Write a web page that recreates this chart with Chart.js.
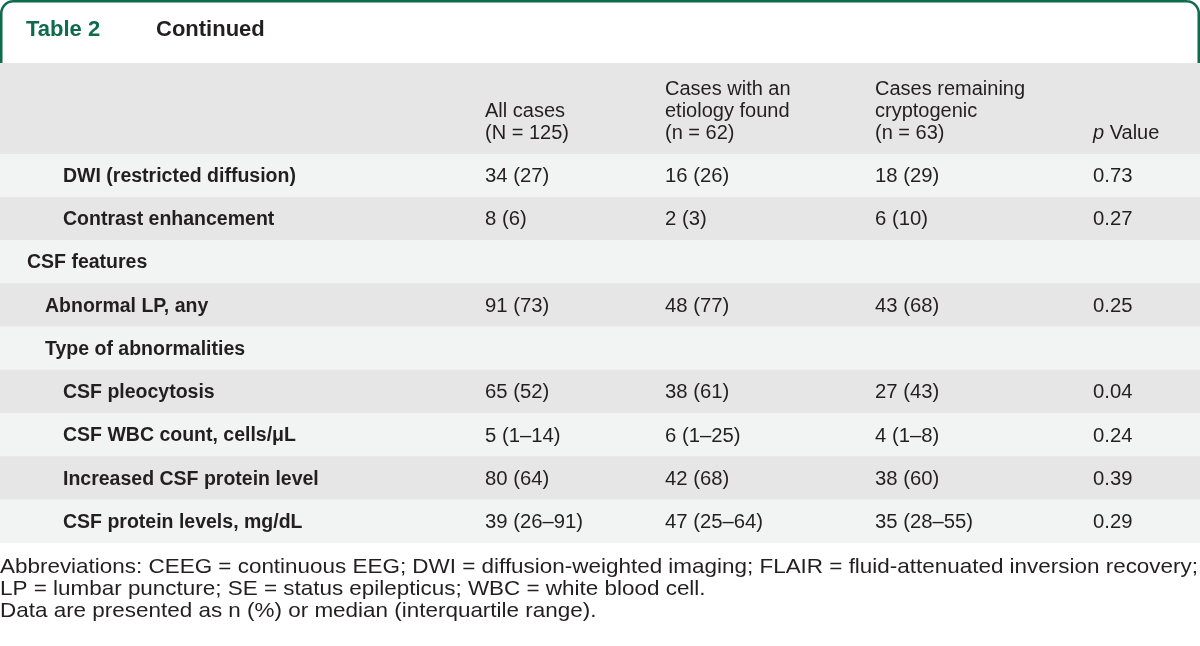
<!DOCTYPE html>
<html>
<head>
<meta charset="utf-8">
<script src="https://cdn.jsdelivr.net/npm/chart.js@4/dist/chart.umd.min.js"></script>
<style>
  html, body { margin: 0; padding: 0; background: #fff; }
  #wrap { width: 1200px; height: 646px; position: relative; }
</style>
</head>
<body>
<div id="wrap"><canvas id="tableChart"></canvas></div>
<script>
// table content
var rowLabels = [
  'DWI (restricted diffusion)',
  'Contrast enhancement',
  'CSF features',
  'Abnormal LP, any',
  'Type of abnormalities',
  'CSF pleocytosis',
  'CSF WBC count, cells/\u03bcL',
  'Increased CSF protein level',
  'CSF protein levels, mg/dL'
]
var rowLevels = [3, 3, 1, 2, 2, 3, 3, 3, 3]
var allCases = ['34 (27)', '8 (6)', '', '91 (73)', '', '65 (52)', '5 (1\u201314)', '80 (64)', '39 (26\u201391)']
var etiologyFound = ['16 (26)', '2 (3)', '', '48 (77)', '', '38 (61)', '6 (1\u201325)', '42 (68)', '47 (25\u201364)']
var cryptogenic = ['18 (29)', '6 (10)', '', '43 (68)', '', '27 (43)', '4 (1\u20138)', '38 (60)', '35 (28\u201355)']
var pValues = ['0.73', '0.27', '', '0.25', '', '0.04', '0.24', '0.39', '0.29']

var headAll = ['All cases', '(N = 125)']
var headEtiology = ['Cases with an', 'etiology found', '(n = 62)']
var headCrypto = ['Cases remaining', 'cryptogenic', '(n = 63)']

var footnotes = [
  'Abbreviations: CEEG = continuous EEG; DWI = diffusion-weighted imaging; FLAIR = fluid-attenuated inversion recovery;',
  'LP = lumbar puncture; SE = status epilepticus; WBC = white blood cell.',
  'Data are presented as n (%) or median (interquartile range).'
]

// layout
var GREEN = '#0e6b4b'
var INK = '#231f20'
var colX = [485, 665, 875, 1093]
var indentX = { 1: 27, 2: 45, 3: 63 }
var FONT = '"Liberation Sans", Arial, sans-serif'

var tablePlugin = {
  id: 'tableText',
  beforeDraw: function (chart) {
    var c = chart.ctx
    var w = chart.width
    c.save()
    c.fillStyle = '#fff'
    c.fillRect(0, 0, w, chart.height)
    // header band
    c.fillStyle = '#e6e6e6'
    c.fillRect(0, 63, w, 91)
    // tab outline
    c.strokeStyle = GREEN
    c.lineWidth = 2.5
    c.beginPath()
    c.moveTo(1.25, 63)
    c.lineTo(1.25, 13)
    c.arcTo(1.25, 1.25, 13, 1.25, 12)
    c.lineTo(w - 13, 1.25)
    c.arcTo(w - 1.25, 1.25, w - 1.25, 13, 12)
    c.lineTo(w - 1.25, 63)
    c.stroke()
    c.restore()
  },
  afterDatasetsDraw: function (chart) {
    var c = chart.ctx
    var y = chart.scales.y
    c.save()
    c.textBaseline = 'middle'
    c.textAlign = 'left'

    // title
    c.font = 'bold 22px ' + FONT
    c.fillStyle = GREEN
    c.fillText('Table 2', 26, 30)
    c.fillStyle = INK
    c.fillText('Continued', 156, 30)

    // column heads, bottom aligned
    c.font = '20px ' + FONT
    var heads = [headAll, headEtiology, headCrypto]
    heads.forEach(function (lines, k) {
      lines.forEach(function (t, j) {
        c.fillText(t, colX[k], 133 - (lines.length - 1 - j) * 22)
      })
    })
    c.font = 'italic 20px ' + FONT
    c.fillText('p', colX[3], 133)
    var pw = c.measureText('p ').width
    c.font = '20px ' + FONT
    c.fillText('Value', colX[3] + pw, 133)

    // body rows
    rowLabels.forEach(function (label, i) {
      var py = y.getPixelForValue(i) + 1
      c.font = 'bold 19.5px ' + FONT
      c.fillText(label, indentX[rowLevels[i]], py)
      c.font = '20.3px ' + FONT
      ;[allCases, etiologyFound, cryptogenic, pValues].forEach(function (col, k) {
        if (col[i]) c.fillText(col[i], colX[k], py)
      })
    })

    // footnotes: condensed face, stretched so the first line fills the width
    c.font = '21px ' + FONT
    var sx = 1198 / c.measureText(footnotes[0]).width
    c.save()
    c.scale(sx, 1)
    footnotes.forEach(function (t, j) {
      c.fillText(t, 0, 567 + j * 22)
    })
    c.restore()
    c.restore()
  }
}

var ctx = document.getElementById('tableChart').getContext('2d')
var tableChart = new Chart(ctx, {
  type: 'bar',
  data: {
    labels: rowLabels,
    datasets: [
      {
        label: 'rows',
        data: rowLabels.map(function () { return 1 }),
        backgroundColor: rowLabels.map(function (r, i) { return i % 2 ? '#e6e6e6' : '#f2f3f3' }),
        borderWidth: 0,
        barPercentage: 1,
        categoryPercentage: 1
      }
    ]
  },
  options: {
    indexAxis: 'y',
    responsive: true,
    maintainAspectRatio: false,
    animation: false,
    layout: { padding: { top: 154, bottom: 103, left: 0, right: 0 } },
    scales: {
      x: { display: false, min: 0, max: 1 },
      y: { display: false }
    },
    plugins: {
      legend: { display: false },
      tooltip: { enabled: false },
      title: { display: false }
    }
  },
  plugins: [tablePlugin]
})
</script>
</body>
</html>
